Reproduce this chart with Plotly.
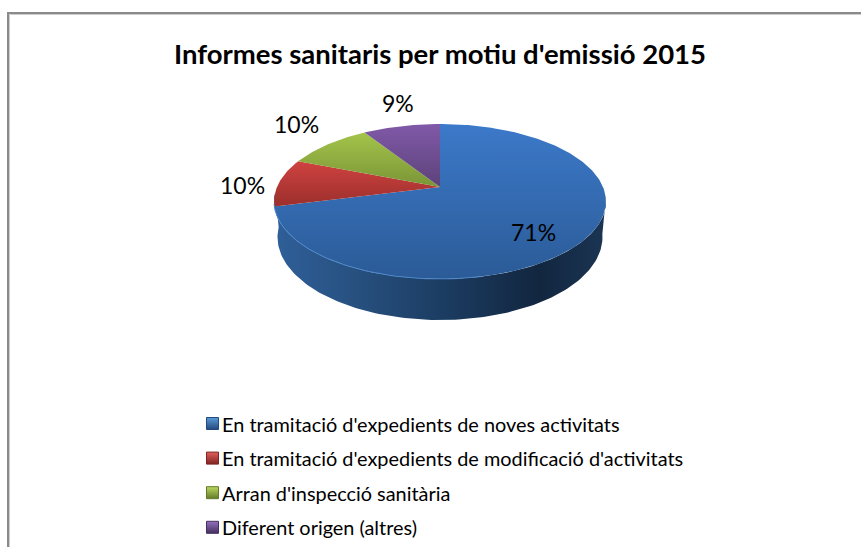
import numpy as np
import plotly.graph_objects as go

TITLE = "Informes sanitaris per motiu d'emissió 2015"
CATEGORIES = [
    "En tramitació d'expedients de noves activitats",
    "En tramitació d'expedients de modificació d'activitats",
    "Arran d'inspecció sanitària",
    "Diferent origen (altres)",
]
VALUES = [71, 10, 10, 9]

FONT = "Lato, Carlito, Calibri, sans-serif"
TOP_COLORS = [("#3c79c9", "#2b5b97"), ("#cf4240", "#9b2f2c"), ("#a3c44b", "#7a9536"), ("#8059a8", "#5c4279")]
SWATCH_LIGHT = ["#5b9bd8", "#e0605c", "#bcd85f", "#9470c0"]
SWATCH_DARK = ["#22497c", "#7f2422", "#62792a", "#44305e"]
LABEL_POS = [(533, 232), (242, 185), (296, 124), (398, 103)]

# projection of the pie disc (unit circle) to the screen, in pixels
CX, D, Y0, A, C = 440, 163, 187, -39.8, 0.187


def project(theta):
    u, v = np.sin(theta), np.cos(theta)
    w = 1 + C * v
    return CX + D * u / w, (A * v + Y0) / w


fig = go.Figure()

# side wall
phi = np.linspace(-0.04, np.pi + 0.12, 140)
tx, ty = 440 + 166 * np.cos(phi), 201.5 + 77.5 * np.sin(phi)
bx, by = 440 + 162.5 * np.cos(phi[::-1]), 237 + 83 * np.sin(phi[::-1])
fig.add_trace(go.Scatter(
    x=np.r_[tx, bx], y=np.r_[ty, by], mode="lines", fill="toself", line=dict(width=0),
    fillgradient=dict(type="horizontal", colorscale=[
        [0, "#2f5f99"], [0.25, "#27507f"], [0.5, "#1c3d63"], [0.8, "#12263f"], [1, "#1b3553"]]),
    showlegend=False, hoverinfo="skip"))

# top face slices
total = sum(VALUES)
start = 0.0
for val, name, (c1, c2) in zip(VALUES, CATEGORIES, TOP_COLORS):
    th = np.linspace(start, start + val / total, max(int(val * 4), 12)) * 2 * np.pi
    px, py = project(th)
    fig.add_trace(go.Scatter(
        x=np.r_[CX, px, CX], y=np.r_[Y0, py, Y0], mode="lines", fill="toself", line=dict(width=0),
        fillgradient=dict(type="vertical", colorscale=[[0, c2], [1, c1]]),
        name=name, showlegend=False, hoverinfo="skip"))
    start += val / total

# soft highlight along the front rim
rim = np.linspace(np.pi * 0.42, np.pi * 0.99, 60)
fig.add_trace(go.Scatter(
    x=440 + 166 * np.cos(rim), y=201.5 + 77.5 * np.sin(rim), mode="lines",
    line=dict(color="#4d86c8", width=1), showlegend=False, hoverinfo="skip"))

# legend block: swatches and their labels
LEG_X, LEG_Y, LEG_STEP = 212.5, 423.5, 34.6
leg_y = [LEG_Y + i * LEG_STEP for i in range(len(CATEGORIES))]
for i, name in enumerate(CATEGORIES):
    fig.add_trace(go.Scatter(
        x=[LEG_X], y=[leg_y[i]], mode="markers", name=name, showlegend=False, hoverinfo="name",
        marker=dict(symbol="square", size=12, color=SWATCH_LIGHT[i],
                    gradient=dict(type="vertical", color=SWATCH_DARK[i]),
                    line=dict(color=SWATCH_DARK[i], width=1))))

annotations = [
    dict(x=x, y=y, text=f"{v}%", showarrow=False, xref="x", yref="y",
         font=dict(family=FONT, size=23, color="#000000"))
    for v, (x, y) in zip(VALUES, LABEL_POS)
]
annotations.append(dict(x=440, y=53.5, text=f"<b>{TITLE}</b>", showarrow=False, xref="x", yref="y",
                        font=dict(family=FONT, size=27.5, color="#000000")))
annotations += [
    dict(x=220, y=y, text=name, showarrow=False, xref="x", yref="y", xanchor="left",
         font=dict(family=FONT, size=19.9, color="#000000"))
    for name, y in zip(CATEGORIES, leg_y)
]

shapes = [dict(type="line", xref="x", yref="y", x0=x0, y0=y0, x1=x1, y1=y1,
               line=dict(color=col, width=w))
          for x0, y0, x1, y1, col, w in [
              (9.5, 14.5, 861, 14.5, "#cccccc", 1), (9.5, 14.5, 9.5, 547, "#cccccc", 1),
              (7, 13, 861, 13, "#8a8a8a", 2), (8, 12, 8, 547, "#8a8a8a", 2)]]

fig.update_layout(
    width=861, height=547, margin=dict(l=0, r=0, t=0, b=0, autoexpand=False),
    paper_bgcolor="white", plot_bgcolor="white", showlegend=False,
    xaxis=dict(range=[0, 861], visible=False, fixedrange=True),
    yaxis=dict(range=[547, 0], visible=False, fixedrange=True),
    annotations=annotations, shapes=shapes,
)

fig.write_html("out.html", config={"displayModeBar": False},
               post_script="document.body.style.margin='0';document.body.style.overflow='hidden';")
